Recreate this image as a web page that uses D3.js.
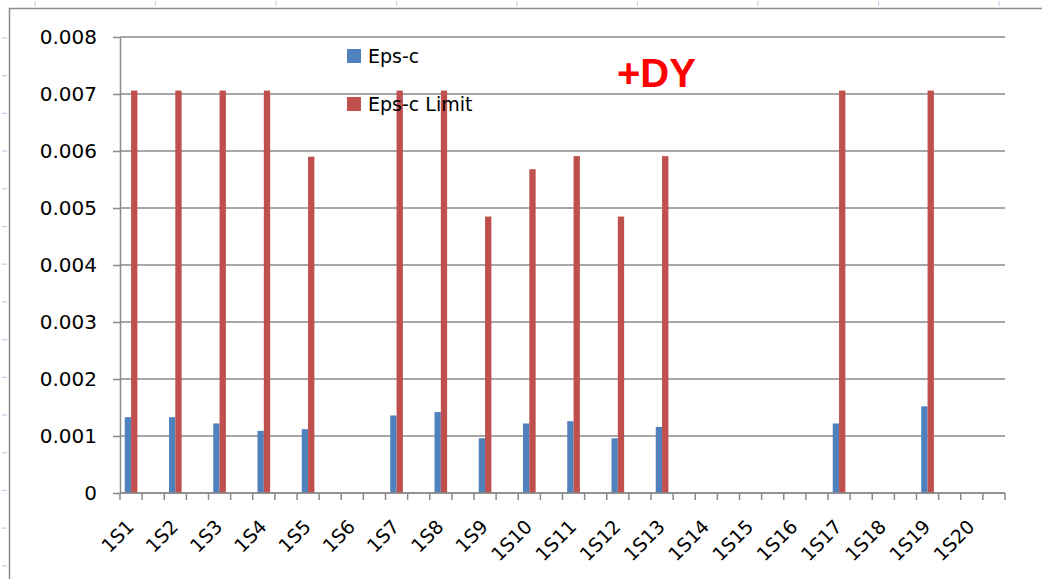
<!DOCTYPE html>
<html>
<head>
<meta charset="utf-8">
<script src="https://cdn.jsdelivr.net/npm/d3@7"></script>
<style>
  html, body { margin: 0; padding: 0; background: #fff; }
  svg { display: block; }
</style>
</head>
<body>
<svg id="chart" width="1042" height="579"></svg>
<script>
const categories = ["1S1","1S2","1S3","1S4","1S5","1S6","1S7","1S8","1S9","1S10",
                    "1S11","1S12","1S13","1S14","1S15","1S16","1S17","1S18","1S19","1S20"];
const seriesNames = ["Eps-c", "Eps-c Limit"];
const epsC = [0.00133,0.00133,0.00122,0.00109,0.00112,null,0.00136,0.00142,0.00096,0.00122,
              0.00126,0.00096,0.00116,null,null,null,0.00122,null,0.00152,null];
const epsCLimit = [0.00706,0.00706,0.00706,0.00706,0.0059,null,0.00706,0.00706,0.00485,0.00568,
                   0.00591,0.00485,0.00591,null,null,null,0.00706,null,0.00706,null];
const yTicks = [0,0.001,0.002,0.003,0.004,0.005,0.006,0.007,0.008];
const yTickLabels = ["0","0.001","0.002","0.003","0.004","0.005","0.006","0.007","0.008"];
const annotation = "+DY";

(function () {
const colors = {"Eps-c": "#4f81bd", "Eps-c Limit": "#c0504d"};
const gridColor = "#8a8a8a";
const font = "'DejaVu Sans', sans-serif";

const svg = d3.select("#chart");
const mLeft = 120, mRight = 1005, mTop = 37, mBottom = 493;

// outer chart frame and ruler marks
svg.append("path").attr("d", `M9.5,579 V8.5 H1042`).attr("fill","none")
   .attr("stroke","#8c8c8c").attr("stroke-width",1.5);
const ruler = svg.append("g").attr("stroke","#c3cfe6").attr("stroke-width",1.2);
d3.range(0, 16).forEach(i => {
  const yy = 38 + i * 37.7;
  if (yy < 579) ruler.append("line").attr("x1",2).attr("x2",7).attr("y1",yy).attr("y2",yy);
});
d3.range(0, 9).forEach(i => {
  const xx = 35 + i * 120.5;
  ruler.append("line").attr("x1",xx).attr("x2",xx).attr("y1",1).attr("y2",6);
});

const x = d3.scaleBand().domain(categories).range([mLeft, mRight])
  .paddingInner(0.5).paddingOuter(0.25).align(0);
const xs = d3.scaleBand().domain(seriesNames).range([0, x.bandwidth()]).paddingOuter(0.75);
const y = d3.scaleLinear().domain([0, 0.008]).range([mBottom, mTop]);

// gridlines
svg.append("g").selectAll("line").data(yTicks).join("line")
  .attr("x1", mLeft).attr("x2", mRight)
  .attr("y1", d => y(d)).attr("y2", d => y(d))
  .attr("stroke", gridColor).attr("stroke-width", 1.5);

// y axis
const yAxis = d3.axisLeft(y).tickValues(yTicks)
  .tickFormat((d, i) => yTickLabels[i]).tickSize(7).tickPadding(16).tickSizeOuter(0);
const gy = svg.append("g").attr("transform", `translate(${mLeft},0)`).call(yAxis);
gy.select(".domain").attr("stroke", gridColor).attr("stroke-width", 1.5);
gy.selectAll(".tick line").attr("stroke", gridColor).attr("stroke-width", 1.5);
gy.selectAll(".tick text").attr("font-family", font).attr("font-size", 20).attr("fill", "#000");

// bars
const rows = categories.map((c, i) => ({c, v: [epsC[i], epsCLimit[i]]}));
const groups = svg.append("g").selectAll("g").data(rows).join("g")
  .attr("transform", d => `translate(${x(d.c)},0)`);
groups.selectAll("rect")
  .data(d => seriesNames.map((s, j) => ({s, v: d.v[j]})).filter(e => e.v != null))
  .join("rect")
  .attr("x", e => xs(e.s)).attr("width", xs.bandwidth())
  .attr("y", e => y(e.v)).attr("height", e => y(0) - y(e.v))
  .attr("fill", e => colors[e.s]);

// x axis line and ticks
svg.append("line").attr("x1", mLeft).attr("x2", mRight).attr("y1", mBottom).attr("y2", mBottom)
  .attr("stroke", gridColor).attr("stroke-width", 1.5);
const tickXs = [];
categories.forEach(c => { tickXs.push(x(c)); tickXs.push(x(c) + x.step() / 2); });
tickXs.push(mRight);
svg.append("g").selectAll("line").data(tickXs).join("line")
  .attr("x1", d => d).attr("x2", d => d).attr("y1", mBottom).attr("y2", mBottom + 7)
  .attr("stroke", gridColor).attr("stroke-width", 1.5);

// x labels
svg.append("g").selectAll("text").data(categories).join("text")
  .attr("transform", c => `translate(${x(c) + x.bandwidth() / 2 + 4},${528}) rotate(-45)`)
  .attr("text-anchor", "end")
  .attr("font-family", font).attr("font-size", 19).attr("fill", "#000")
  .text(c => c);

// legend
const legend = svg.append("g");
seriesNames.forEach((s, i) => {
  legend.append("rect").attr("x", 347).attr("y", 49 + i * 48).attr("width", 14).attr("height", 14)
    .attr("fill", colors[s]);
  legend.append("text").attr("x", 368).attr("y", 63 + i * 48)
    .attr("font-family", font).attr("font-size", 19).attr("fill", "#000").text(s);
});

// annotation
svg.append("text").attr("x", 617).attr("y", 87)
  .attr("font-family", "'Liberation Sans', Arial, sans-serif").attr("font-weight", "bold")
  .attr("font-size", 40).attr("fill", "#ff0000").text(annotation);
})();
</script>
</body>
</html>
